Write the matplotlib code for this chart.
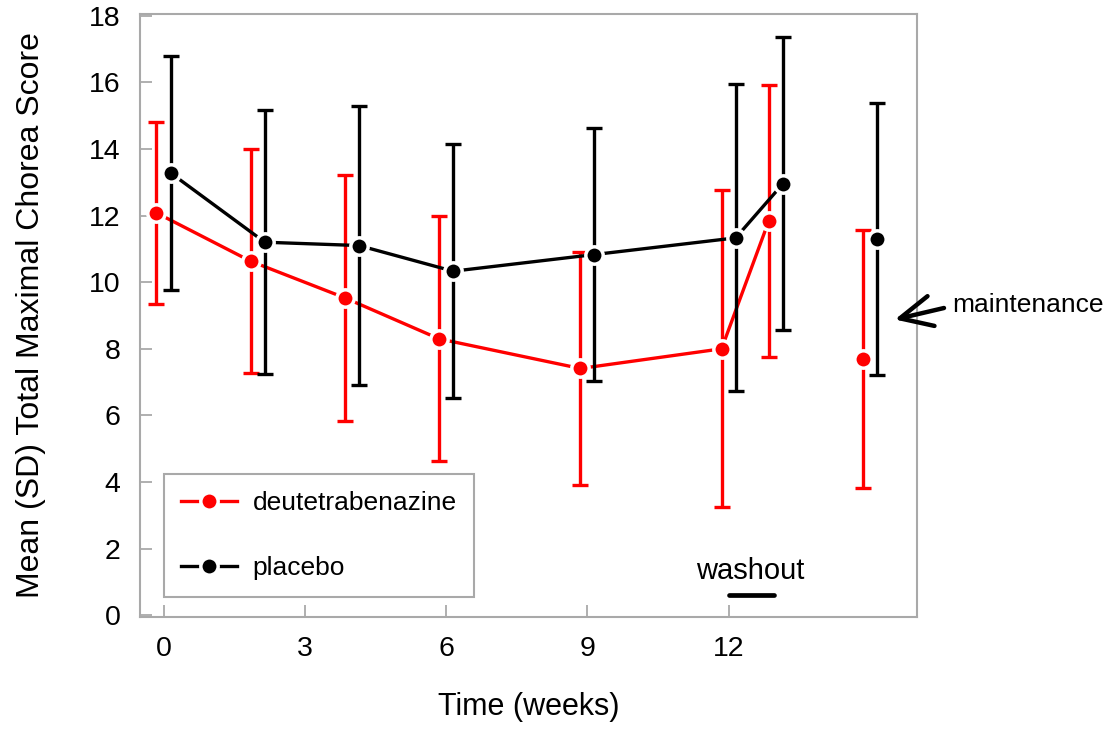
import matplotlib
matplotlib.use('Agg')
import matplotlib.pyplot as mpl
from matplotlib.lines import Line2D
import numpy

# data
weeks = [0, 2, 4, 6, 9, 12, 13, 15]
x_ticks = [0, 3, 6, 9, 12]
y_ticks = [0, 2, 4, 6, 8, 10, 12, 14, 16, 18]

deu_mean = [12.08, 10.63, 9.53, 8.30, 7.41, 8.00, 11.83, 7.70]
deu_sd = [2.73, 3.36, 3.70, 3.68, 3.50, 4.76, 4.08, 3.88]
pla_mean = [13.28, 11.20, 11.10, 10.33, 10.83, 11.33, 12.95, 11.30]
pla_sd = [3.50, 3.97, 4.20, 3.82, 3.79, 4.61, 4.40, 4.09]

labels = ['deutetrabenazine', 'placebo']
n_joined = 7  # last visit (maintenance) is not joined to the others
washout = [12, 12.96]

mpl.rcParams['font.family'] = ['Liberation Sans', 'DejaVu Sans']
GRAY = '#a9a9a9'


def draw_series(ax, x, mean, sd, color, z):
    ax.errorbar(x, mean, yerr=sd, fmt='none', ecolor=color, elinewidth=2.4,
                capsize=6, capthick=2.4, zorder=z)
    ax.plot(x[:n_joined], mean[:n_joined], '-', color=color, lw=2.4,
            marker='o', ms=12.5, mfc=color, mec='white', mew=2.5, zorder=z + 1)
    ax.plot(x[n_joined:], mean[n_joined:], 'none', color=color,
            marker='o', ms=12.5, mfc=color, mec='white', mew=2.5, zorder=z + 1)


fig = mpl.figure(figsize=(11.13, 7.32), dpi=100)
ax = fig.add_axes([140 / 1113, 1 - 617 / 732, 777 / 1113, 603 / 732])

shift = 0.15
x = numpy.array(weeks, dtype=float)
draw_series(ax, x - shift, deu_mean, deu_sd, 'red', 2)
draw_series(ax, x + shift, pla_mean, pla_sd, 'black', 4)

ax.set_xlim(-0.5, 16.0)
ax.set_ylim(-0.05, 18.05)
ax.set_xticks(x_ticks)
ax.set_yticks(y_ticks)
ax.tick_params(direction='in', length=8.5, width=1.3, color=GRAY,
               labelsize=20.5, pad=14)
for s in ax.spines.values():
    s.set_color(GRAY)
    s.set_linewidth(1.5)

ax.set_xlabel('Time (weeks)', fontsize=22)
ax.set_ylabel('Mean (SD) Total Maximal Chorea Score', fontsize=23)
ax.xaxis.set_label_coords(0.5, -0.124)
ax.yaxis.set_label_coords(-0.121, 0.5)

# washout bar + text
ax.plot(washout, [0.6, 0.6], color='black', lw=3.4, solid_capstyle='round')
ax.text(numpy.mean(washout) - 0.02, 1.32, 'washout', fontsize=21,
        ha='center', va='center')

# maintenance arrow
ax.annotate('', xy=(15.53, 8.88), xytext=(944, 732 - 308),
            textcoords='figure pixels', annotation_clip=False,
            arrowprops=dict(arrowstyle='->,head_length=2.3,head_width=1.1',
                            lw=3.2, color='black', shrinkA=0, shrinkB=0))
fig.text(952 / 1113, 1 - 305 / 732, 'maintenance', fontsize=19,
         ha='left', va='center')

handles = [Line2D([], [], color=c, lw=2.4, marker='o', ms=12.5, mfc=c,
                  mec='white', mew=2.5) for c in ['red', 'black']]
leg = ax.legend(handles, labels, loc='lower left',
                bbox_to_anchor=(0.031, 0.033), borderaxespad=0,
                fontsize=19, handlelength=2.1, handletextpad=0.6,
                labelspacing=1.55, borderpad=0.65, fancybox=False,
                framealpha=1, edgecolor=GRAY)
leg.get_frame().set_linewidth(1.5)

fig.savefig('out.png', dpi=100)
